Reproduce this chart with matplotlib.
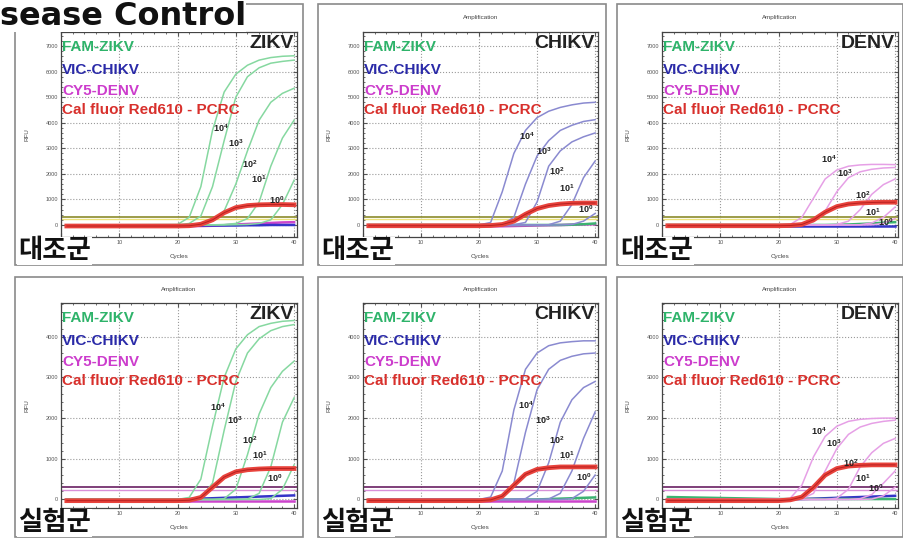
import matplotlib.pyplot as plt
from matplotlib.patches import Rectangle

plt.rcParams['font.family'] = ['Liberation Sans', 'Noto Sans CJK KR', 'DejaVu Sans']
plt.rcParams['mathtext.fontset'] = 'custom'
plt.rcParams['mathtext.bf'] = 'Liberation Sans:bold'

W, H = 904, 540

# ---- data (RFU at these cycles) ----
cycles = [1, 20, 22, 24, 26, 28, 30, 32, 34, 36, 38, 40]
conc_labels = ['10^4', '10^3', '10^2', '10^1', '10^0']

# control group
ctrl_zikv_fam = [
    [0, 20, 300, 1500, 3700, 5200, 5900, 6250, 6450, 6550, 6600, 6620],
    [0, 0, 60, 350, 1500, 3300, 5000, 5800, 6150, 6330, 6400, 6450],
    [0, 0, 10, 40, 150, 550, 1600, 2900, 4100, 4800, 5150, 5350],
    [0, 0, 0, 0, 5, 20, 60, 250, 900, 2300, 3400, 4100],
    [0, 0, 0, 0, 0, 0, 10, 20, 60, 200, 800, 1750],
]
ctrl_zikv_red = [-40, -40, -30, 30, 200, 480, 680, 760, 790, 800, 800, 790]
ctrl_zikv_cy5 = [-60, -50, -50, -40, -30, -10, 20, 40, 60, 80, 100, 110]
ctrl_zikv_vic = [-20, -20, -20, -20, -20, -20, -20, -10, -10, 0, 0, 0]

ctrl_chikv_vic = [
    [0, 0, 100, 1300, 2800, 3700, 4200, 4450, 4600, 4700, 4770, 4800],
    [0, 0, 0, 20, 300, 1600, 2700, 3300, 3700, 3900, 4050, 4120],
    [0, 0, 0, 0, 10, 100, 900, 2300, 2900, 3250, 3450, 3600],
    [0, 0, 0, 0, 0, 0, 0, 10, 150, 800, 1850, 2500],
    [0, 0, 0, 0, 0, 0, 0, 0, 0, 20, 150, 450],
]
ctrl_chikv_red = [-30, -30, -20, 20, 150, 420, 640, 760, 820, 850, 860, 860]
ctrl_chikv_cy5 = [-60, -50, -50, -50, -40, -30, -20, -10, 0, 10, 20, 30]
ctrl_chikv_fam = [0, 0, 0, 0, 0, 0, 0, 0, 0, 10, 30, 60]

ctrl_denv_cy5 = [
    [0, 0, 20, 300, 1050, 1800, 2150, 2300, 2350, 2370, 2370, 2360],
    [0, 0, 0, 20, 120, 550, 1300, 1850, 2080, 2180, 2230, 2250],
    [0, 0, 0, 0, 0, 0, 20, 150, 600, 1200, 1580, 1800],
    [0, 0, 0, 0, 0, 0, 0, 0, 10, 80, 300, 700],
    [0, 0, 0, 0, 0, 0, 0, 0, 0, 10, 60, 250],
]
ctrl_denv_red = [-30, -30, -20, 20, 200, 500, 720, 820, 860, 880, 890, 890]
ctrl_denv_fam = [0, 0, 0, 0, 0, 0, 10, 20, 40, 60, 90, 110]
ctrl_denv_vic = [-40, -40, -40, -40, -40, -40, -40, -40, -40, -40, -40, -40]

# experimental group
exp_zikv_fam = [
    [0, 0, 50, 500, 1800, 3000, 3700, 4050, 4250, 4330, 4380, 4400],
    [0, 0, 0, 40, 400, 1700, 2900, 3600, 3950, 4150, 4250, 4300],
    [0, 0, 0, 0, 0, 20, 250, 1100, 2100, 2750, 3150, 3400],
    [0, 0, 0, 0, 0, 0, 0, 10, 150, 800, 1900, 2500],
    [0, 0, 0, 0, 0, 0, 0, 0, 0, 20, 250, 850],
]
exp_zikv_red = [-30, -30, -20, 50, 300, 550, 680, 730, 750, 760, 760, 760]
exp_zikv_vic = [0, 0, 10, 20, 30, 40, 50, 60, 70, 80, 90, 100]
exp_zikv_cy5 = [-40, -40, -40, -40, -40, -40, -40, -40, -40, -40, -40, -40]

exp_chikv_vic = [
    [0, 0, 60, 700, 2200, 3200, 3600, 3780, 3850, 3880, 3900, 3900],
    [0, 0, 0, 30, 400, 1650, 2700, 3200, 3420, 3520, 3580, 3600],
    [0, 0, 0, 0, 0, 20, 200, 900, 1900, 2450, 2750, 2900],
    [0, 0, 0, 0, 0, 0, 0, 10, 150, 700, 1500, 2150],
    [0, 0, 0, 0, 0, 0, 0, 0, 0, 20, 200, 600],
]
exp_chikv_red = [-30, -30, -10, 80, 350, 620, 740, 780, 800, 800, 800, 800]
exp_chikv_fam = [0, 0, 0, 0, 0, 0, 0, 10, 20, 30, 40, 50]
exp_chikv_cy5 = [-30, -30, -30, -30, -30, -30, -30, -30, -30, -30, -30, -30]

exp_denv_cy5 = [
    [0, 0, 30, 350, 1050, 1550, 1800, 1920, 1970, 1990, 2000, 2000],
    [0, 0, 0, 20, 150, 700, 1250, 1600, 1780, 1870, 1920, 1950],
    [0, 0, 0, 0, 0, 0, 30, 250, 800, 1150, 1380, 1500],
    [0, 0, 0, 0, 0, 0, 0, 0, 20, 120, 400, 700],
    [0, 0, 0, 0, 0, 0, 0, 0, 0, 10, 90, 300],
]
exp_denv_red = [-30, -30, -10, 60, 300, 600, 760, 820, 840, 850, 850, 850]
exp_denv_vic = [0, 0, 0, 10, 20, 30, 40, 50, 60, 70, 80, 90]
exp_denv_fam = [60, 10, 10, 10, 10, 10, 10, 10, 10, 10, 10, 10]

threshold_ctrl = [300, 220]
threshold_exp = [300, 240]

legend_names = ['FAM-ZIKV', 'VIC-CHIKV', 'CY5-DENV', 'Cal fluor Red610 - PCRC']

# ---- styles ----
legend_colors = ['#2eb36a', '#2a2aa8', '#cc3ccc', '#d8302c']
curve_color = {'FAM': '#86d8a0', 'VIC': '#8a8ad0', 'CY5': '#e6a0e6'}
flat_color = {'FAM': '#3cb371', 'VIC': '#3434c8', 'CY5': '#cc44cc'}


def fx(px):
    return px / W


def fy(py):
    return 1 - py / H


fig = plt.figure(figsize=(9.04, 5.4), dpi=100)

# columns: frame x0, x1, axes left, axes right
cols = [(15, 303, 61, 297), (318, 606, 363, 598), (617, 903, 662, 898)]
# rows: frame y0, y1, axes top, axes bottom
rows = [(4, 265, 32, 237), (277, 537, 303, 508)]

panels = [
    dict(r=0, c=0, name='ZIKV', ch='FAM', curves=ctrl_zikv_fam, red=ctrl_zikv_red,
         flats=[('CY5', ctrl_zikv_cy5), ('VIC', ctrl_zikv_vic)], group='대조군',
         lab=[(27.4, 3800), (30.0, 3220), (32.3, 2390), (34.0, 1800), (37.1, 970)]),
    dict(r=0, c=1, name='CHIKV', ch='VIC', curves=ctrl_chikv_vic, red=ctrl_chikv_red,
         flats=[('CY5', ctrl_chikv_cy5), ('FAM', ctrl_chikv_fam)], group='대조군',
         lab=[(28.3, 3490), (31.1, 2890), (33.4, 2100), (35.1, 1450), (38.3, 600)]),
    dict(r=0, c=2, name='DENV', ch='CY5', curves=ctrl_denv_cy5, red=ctrl_denv_red,
         flats=[('FAM', ctrl_denv_fam), ('VIC', ctrl_denv_vic)], group='대조군',
         lab=[(28.7, 2575), (31.3, 2030), (34.4, 1180), (36.1, 520), (38.4, 130)]),
    dict(r=1, c=0, name='ZIKV', ch='FAM', curves=exp_zikv_fam, red=exp_zikv_red,
         flats=[('VIC', exp_zikv_vic), ('CY5', exp_zikv_cy5)], group='실험군',
         lab=[(26.9, 2280), (29.8, 1950), (32.4, 1460), (34.1, 1090), (36.7, 520)]),
    dict(r=1, c=1, name='CHIKV', ch='VIC', curves=exp_chikv_vic, red=exp_chikv_red,
         flats=[('FAM', exp_chikv_fam), ('CY5', exp_chikv_cy5)], group='실험군',
         lab=[(28.0, 2320), (30.9, 1950), (33.4, 1460), (35.1, 1090), (38.0, 560)]),
    dict(r=1, c=2, name='DENV', ch='CY5', curves=exp_denv_cy5, red=exp_denv_red,
         flats=[('VIC', exp_denv_vic), ('FAM', exp_denv_fam)], group='실험군',
         lab=[(27.0, 1680), (29.5, 1390), (32.4, 900), (34.4, 530), (36.6, 290)]),
]

for i, p in enumerate(panels):
    fx0, fx1, axl, axr = cols[p['c']]
    fy0, fy1, axt, axb = rows[p['r']]

    # panel frame
    fig.add_artist(Rectangle((fx(fx0), fy(fy1)), (fx1 - fx0) / W, (fy1 - fy0) / H,
                             transform=fig.transFigure, fill=False,
                             ec='#8a8a8a', lw=1.2))

    ax = fig.add_axes([fx(axl), fy(axb), (axr - axl) / W, (axb - axt) / H])
    if p['r'] == 0:
        ax.set_ylim(-470, 7550)
        ax.set_yticks(range(0, 7001, 1000))
        ax.set_yticks(range(0, 7501, 200), minor=True)
        thr, thr_cols = threshold_ctrl, ['#8b8b2b', '#ece27a']
    else:
        ax.set_ylim(-210, 4830)
        ax.set_yticks(range(0, 4001, 1000))
        ax.set_yticks(range(0, 4801, 200), minor=True)
        thr, thr_cols = threshold_exp, ['#6a1f62', '#d890d8']
    ax.set_xlim(0, 40.5)
    # the "0" cycle label sits under the group label in the reference
    ax.set_xticks([0, 10, 20, 30, 40], ['', '10', '20', '30', '40'])
    ax.set_xticks(range(0, 41, 2), minor=True)
    ax.grid(True, which='major', ls=':', color='#9a9a9a', lw=0.8)
    ax.tick_params(which='both', direction='in', top=True, right=True,
                   labelsize=4, colors='#555555', pad=2)
    ax.tick_params(which='major', length=3)
    ax.tick_params(which='minor', length=1.5)
    for s in ax.spines.values():
        s.set_color('#444444')
        s.set_linewidth(0.9)

    # thresholds
    ax.axhline(thr[1], color=thr_cols[1], lw=1.0)
    ax.axhline(thr[0], color=thr_cols[0], lw=1.2)

    # flat channels
    for ch, vals in p['flats']:
        ax.plot(cycles, vals, color=flat_color[ch], lw=1.8)

    # target dilution curves
    for vals in p['curves']:
        ax.plot(cycles, vals, color=curve_color[p['ch']], lw=1.1)

    # internal control
    ax.plot(cycles, p['red'], color='#e8433c', lw=3.4)
    ax.plot(cycles, p['red'], color='#b82020', lw=0.7)

    for (lx, ly), t in zip(p['lab'], conc_labels):
        ax.text(lx, ly, r'$\mathbf{' + t + '}$', fontsize=6.5, color='#222222',
                ha='center', va='center')

    ax.text(0.985, 0.985, p['name'], transform=ax.transAxes, ha='right',
            va='top', fontsize=14, fontweight='bold', color='#222222')

    # legend texts
    for off, name, col in zip([15, 38, 59, 78], legend_names, legend_colors):
        fig.text(fx(axl + 1), fy(axt + off), name, color=col, fontsize=11,
                 fontweight='bold', ha='left', va='center')

    # small labels
    if i != 0:
        fig.text(fx((axl + axr) / 2), fy(axt - 14), 'Amplification',
                 fontsize=4.5, color='#444444', ha='center', va='center')
    fig.text(fx((axl + axr) / 2), fy(axb + 20), 'Cycles', fontsize=4.5,
             color='#444444', ha='center', va='center')
    fig.text(fx(axl - 34), fy((axt + axb) / 2), 'RFU', fontsize=4.5,
             color='#444444', ha='center', va='center', rotation=90)

    fig.text(fx(fx0 + 3), fy(fy1 - 14), p['group'], fontsize=19,
             fontweight='bold', color='#111111', ha='left', va='center',
             family=['Noto Sans CJK KR', 'DejaVu Sans'],
             bbox=dict(facecolor='white', edgecolor='none', pad=0.5))

fig.text(0, fy(25), 'sease Control', fontsize=23, fontweight='bold',
         color='#111111', ha='left', va='baseline',
         family=['DejaVu Sans'],
         bbox=dict(facecolor='white', edgecolor='none', pad=0))

fig.savefig('out.png', dpi=100, facecolor='white')
